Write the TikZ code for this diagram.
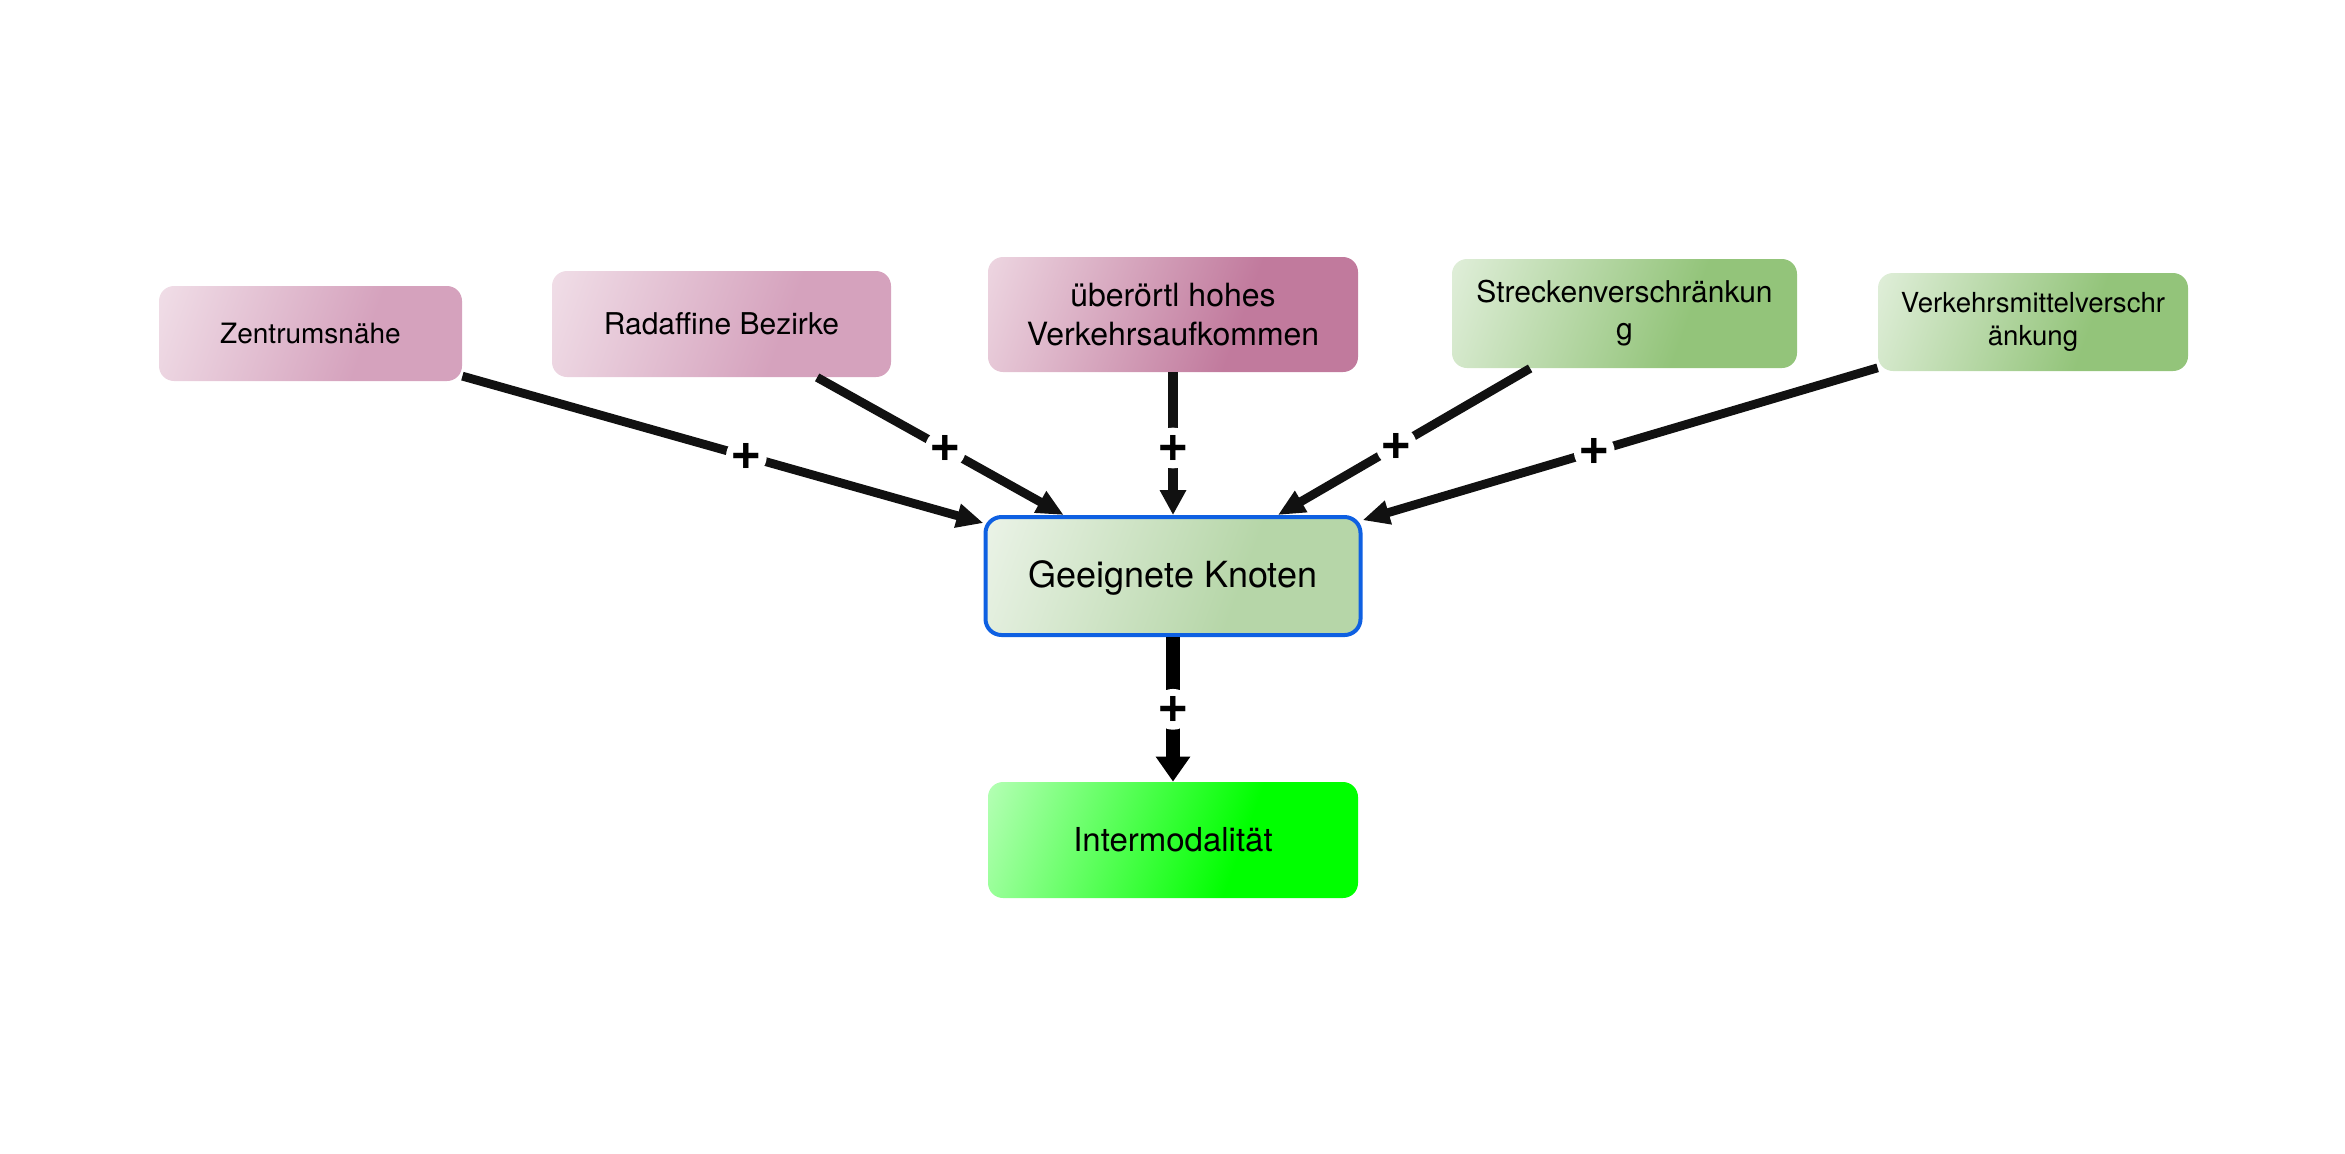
\documentclass[tikz,border=0pt]{standalone}
\usepackage{fontspec}
\setmainfont{TeX Gyre Heros}
\usetikzlibrary{arrows.meta}
\definecolor{zL}{RGB}{244,230,237}
\definecolor{zD}{RGB}{213,162,189}
\definecolor{uL}{RGB}{243,226,234}
\definecolor{uD}{RGB}{193,122,157}
\definecolor{sL}{RGB}{234,244,230}
\definecolor{sD}{RGB}{147,196,122}
\definecolor{gL}{RGB}{242,247,240}
\definecolor{gD}{RGB}{182,214,168}
\definecolor{iL}{RGB}{205,255,205}
\definecolor{iD}{RGB}{0,255,0}
\definecolor{blueB}{RGB}{14,96,226}
\definecolor{arrC}{RGB}{17,17,17}
\colorlet{boxL}{white}
\colorlet{boxD}{black}
\pgfdeclarehorizontalshading[boxL,boxD]{boxshade}{100bp}{color(0bp)=(boxL); color(12bp)=(boxL); color(61bp)=(boxD); color(100bp)=(boxD)}
\tikzset{
  box/.style={rounded corners=7.5pt, inner sep=0pt, align=center, text=black},
  grad/.style 2 args={/utils/exec={\colorlet{boxL}{#1}\colorlet{boxD}{#2}}, shade, shading=boxshade, shading angle=-20},
  arr/.style={draw=arrC, line width=4.4pt, -{Triangle[length=13.5pt, width=11.5pt]}},
  arrU/.style={draw=arrC, line width=5pt, -{Triangle[length=12.5pt, width=12.5pt]}},
  arrB/.style={draw=black, line width=7pt, -{Triangle[length=12.5pt, width=16.5pt]}},
  plusl/.style={fill=white, circle, inner sep=0pt, minimum size=18.5pt, text=black, font=\bfseries\fontsize{27}{27}\selectfont}
}
\begin{document}
\begin{tikzpicture}[x=0.5pt, y=-0.5pt]
\useasboundingbox (0,0) rectangle (2345,1153);
\node[box, grad={zL}{zD}, minimum width=151.5pt, minimum height=47.5pt, font=\fontsize{14}{16.8}\selectfont] (Z) at (310.5,333.5) {Zentrumsnähe};
\node[box, grad={zL}{zD}, minimum width=169.5pt, minimum height=53pt, font=\fontsize{15}{18}\selectfont] (R) at (721.5,324) {Radaffine Bezirke};
\node[box, grad={uL}{uD}, minimum width=185pt, minimum height=57.5pt, font=\fontsize{16}{19.5}\selectfont] (U) at (1173,314.5) {überörtl hohes\\Verkehrsaufkommen};
\node[box, grad={sL}{sD}, minimum width=172.5pt, minimum height=54.5pt, font=\fontsize{15}{18.5}\selectfont] (S) at (1624.5,313.5) {Streckenverschränkun\\g};
\node[box, grad={sL}{sD}, minimum width=155pt, minimum height=49pt, font=\fontsize{13.8}{16.8}\selectfont] (V) at (2033,322) {Verkehrsmittelverschr\\änkung};
\node[box, grad={gL}{gD}, draw=blueB, line width=2pt, rounded corners=8pt, minimum width=187.5pt, minimum height=59pt, text height=13pt, text depth=2pt, font=\fontsize{18}{21}\selectfont] (G) at (1173,576) {Geeignete Knoten};
\node[box, grad={iL}{iD}, minimum width=185pt, minimum height=58pt, font=\fontsize{16.5}{19.5}\selectfont] (I) at (1173,840) {Intermodalität};
\draw[arr] (Z) -- node[plusl, pos=0.545] {+} (G);
\draw[arr] (R) -- node[plusl, pos=0.52] {+} (G);
\draw[arrU] (U) -- node[plusl, pos=0.53] {+} (G);
\draw[arr] (S) -- node[plusl, pos=0.53] {+} (G);
\draw[arr] (V) -- node[plusl, pos=0.55] {+} (G);
\draw[arrB] (G) -- node[plusl, pos=0.5] {+} (I);
\end{tikzpicture}
\end{document}
